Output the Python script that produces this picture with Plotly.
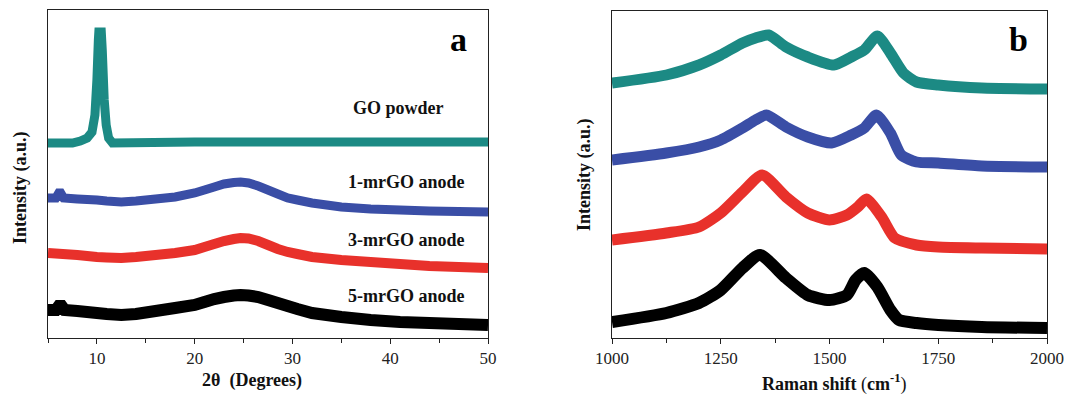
import plotly.graph_objects as go

# ---------- Panel a: XRD (2θ in degrees, intensity in a.u.) ----------
go_x = [5, 7.5, 8.3, 9.0, 9.5, 9.8, 10.0, 10.15, 10.2, 10.45, 10.55, 10.75, 10.95, 11.2, 11.6, 20, 30, 40, 50]
go_y = [195, 195, 197, 200, 206, 223, 258, 298, 306, 306, 288, 238, 213, 200, 195, 196, 196, 196, 196]

m1_x = [5, 5.8, 6.1, 6.3, 6.6, 8, 10, 11, 12.5, 14, 16, 18, 20, 21, 22, 23, 24, 24.7, 25.5, 26.5, 27.5, 28.5, 29.5, 30.5, 32, 35, 38, 41, 44, 47, 50]
m1_y = [140, 140, 145, 145, 140, 139, 138, 137, 136, 137, 139, 141, 145, 148, 151, 154, 155.5, 156, 155, 152, 148, 144, 140, 138, 135, 131, 129, 128, 127, 126.5, 126]

m3_x = [5, 8, 10, 11, 12.5, 14, 16, 18, 20, 21, 22, 23, 24, 24.7, 25.5, 26.5, 27.5, 28.5, 29.5, 30.5, 32, 35, 38, 41, 44, 47, 50]
m3_y = [85, 83, 81, 80.5, 80, 81, 83, 85, 88, 91, 94, 97, 99, 100, 99.5, 97, 93, 89, 86, 84, 81, 78, 76, 74, 72, 71, 70]

m5_x = [5, 5.8, 6.1, 6.4, 6.7, 8, 10, 11, 12.5, 14, 16, 18, 20, 21, 22, 23, 24, 24.7, 25.5, 26.5, 27.5, 28.5, 29.5, 30.5, 32, 35, 38, 41, 44, 47, 50]
m5_y = [28, 28, 32, 32, 28, 27, 25, 24, 23, 24, 27, 30, 33, 36, 39, 41, 42.5, 43, 42.5, 41, 38, 35, 32, 29, 25, 21, 18, 16, 15, 14, 13]

xrd_labels = ["GO powder", "1-mrGO anode", "3-mrGO anode", "5-mrGO anode"]

# ---------- Panel b: Raman (shift in cm-1, intensity in a.u.) ----------
r_go_x = [1000, 1125, 1200, 1250, 1300, 1330, 1360, 1400, 1450, 1510, 1550, 1580, 1610, 1640, 1670, 1700, 1750, 1850, 2000]
r_go_y = [255, 263, 273, 283, 295, 300, 303, 291, 281, 273, 281, 288, 302, 285, 265, 256, 253, 250, 249]

r_m1_x = [1000, 1125, 1200, 1250, 1300, 1330, 1355, 1400, 1450, 1505, 1550, 1580, 1608, 1640, 1665, 1700, 1750, 1850, 2000]
r_m1_y = [178, 185, 191, 198, 210, 218, 223, 211, 201, 195, 203, 210, 223, 205, 183, 176, 175, 172, 171]

r_m3_x = [1000, 1125, 1200, 1250, 1300, 1345, 1400, 1450, 1500, 1540, 1565, 1585, 1620, 1650, 1700, 1750, 1850, 2000]
r_m3_y = [98, 105, 111, 125, 146, 163, 141, 125, 118, 123, 131, 139, 121, 100, 93, 91, 90, 89]

r_m5_x = [1000, 1125, 1200, 1250, 1300, 1340, 1400, 1450, 1500, 1540, 1560, 1580, 1610, 1640, 1660, 1700, 1750, 1850, 2000]
r_m5_y = [16, 25, 35, 48, 70, 83, 60, 43, 38, 43, 58, 65, 51, 28, 18, 15, 13, 11, 10]

colors = ["#1c8a84", "#3a4ea6", "#e8312b", "#000000"]
FONT = "Liberation Serif, Times New Roman, serif"

fig = go.Figure()

xrd = [(go_x, go_y), (m1_x, m1_y), (m3_x, m3_y), (m5_x, m5_y)]
for (x, y), c, w in zip(xrd, colors, [9, 9, 10, 12]):
    fig.add_trace(go.Scatter(x=x, y=y, mode="lines",
                             line=dict(color=c, width=w, shape="linear", simplify=False),
                             xaxis="x", yaxis="y", showlegend=False))

ram = [(r_go_x, r_go_y), (r_m1_x, r_m1_y), (r_m3_x, r_m3_y), (r_m5_x, r_m5_y)]
for (x, y), c, w in zip(ram, colors, [11, 11, 11, 12]):
    fig.add_trace(go.Scatter(x=x, y=y, mode="lines",
                             line=dict(color=c, width=w, shape="spline", smoothing=0.6, simplify=False),
                             xaxis="x2", yaxis="y2", showlegend=False))

axis_common = dict(showline=True, linecolor="#222", linewidth=1, mirror=True, showgrid=False,
                   zeroline=False, automargin=False)

fig.update_layout(
    width=1070, height=394,
    margin=dict(l=0, r=0, t=0, b=0, autoexpand=False),
    paper_bgcolor="white", plot_bgcolor="white",
    font=dict(family=FONT, size=17, color="#222"),
    xaxis=dict(domain=[48/1070, 488/1070], range=[5, 50], tick0=0, dtick=10, ticks="outside", ticklen=5,
               tickcolor="#222", minor=dict(dtick=5, tick0=0, ticks="outside", ticklen=4, tickcolor="#222"),
               tickfont=dict(size=17, family=FONT), anchor="y", **axis_common),
    yaxis=dict(domain=[1-338/394, 1-10/394], range=[0, 328], showticklabels=False, ticks="",
               anchor="x", **axis_common),
    xaxis2=dict(domain=[612/1070, 1047/1070], range=[1000, 2000], tick0=1000, dtick=250, ticks="outside", ticklen=5,
                tickcolor="#222", minor=dict(dtick=125, tick0=1000, ticks="outside", ticklen=4, tickcolor="#222"),
                tickfont=dict(size=17, family=FONT), anchor="y2", **axis_common),
    yaxis2=dict(domain=[1-338/394, 1-11/394], range=[0, 327], showticklabels=False, ticks="",
                anchor="x2", **axis_common),
)

ann = []
label_pos = [(398, 108, "center"), (467, 182, "right"), (467, 240, "right"), (467, 296, "right")]
for (px, py, al), t in zip(label_pos, xrd_labels):
    ann.append(dict(x=px/1070, y=1-py/394, xref="paper", yref="paper", text=f"<b>{t}</b>",
                    showarrow=False, xanchor=al, yanchor="middle", font=dict(size=18, family=FONT, color="#111")))
ann.append(dict(x=458/1070, y=1-40/394, xref="paper", yref="paper", text="<b>a</b>", showarrow=False,
                xanchor="center", yanchor="middle", font=dict(size=34, family=FONT, color="#000")))
ann.append(dict(x=1018/1070, y=1-40/394, xref="paper", yref="paper", text="<b>b</b>", showarrow=False,
                xanchor="center", yanchor="middle", font=dict(size=34, family=FONT, color="#000")))
ann.append(dict(x=252/1070, y=1-380/394, xref="paper", yref="paper", text="<b>2θ  (Degrees)</b>", showarrow=False,
                xanchor="center", yanchor="middle", font=dict(size=18, family=FONT, color="#111")))
ann.append(dict(x=834/1070, y=1-383/394, xref="paper", yref="paper",
                text="<b>Raman shift </b>(<b>cm<sup>-1</sup></b>)",
                showarrow=False, xanchor="center", yanchor="middle", font=dict(size=18, family=FONT, color="#111")))
ann.append(dict(x=20/1070, y=1-188/394, xref="paper", yref="paper", text="<b>Intensity (a.u.)</b>", showarrow=False,
                textangle=-90, xanchor="center", yanchor="middle", font=dict(size=18, family=FONT, color="#111")))
ann.append(dict(x=585/1070, y=1-175/394, xref="paper", yref="paper", text="<b>Intensity (a.u.)</b>", showarrow=False,
                textangle=-90, xanchor="center", yanchor="middle", font=dict(size=18, family=FONT, color="#111")))
fig.update_layout(annotations=ann)

fig.write_html("out.html")
